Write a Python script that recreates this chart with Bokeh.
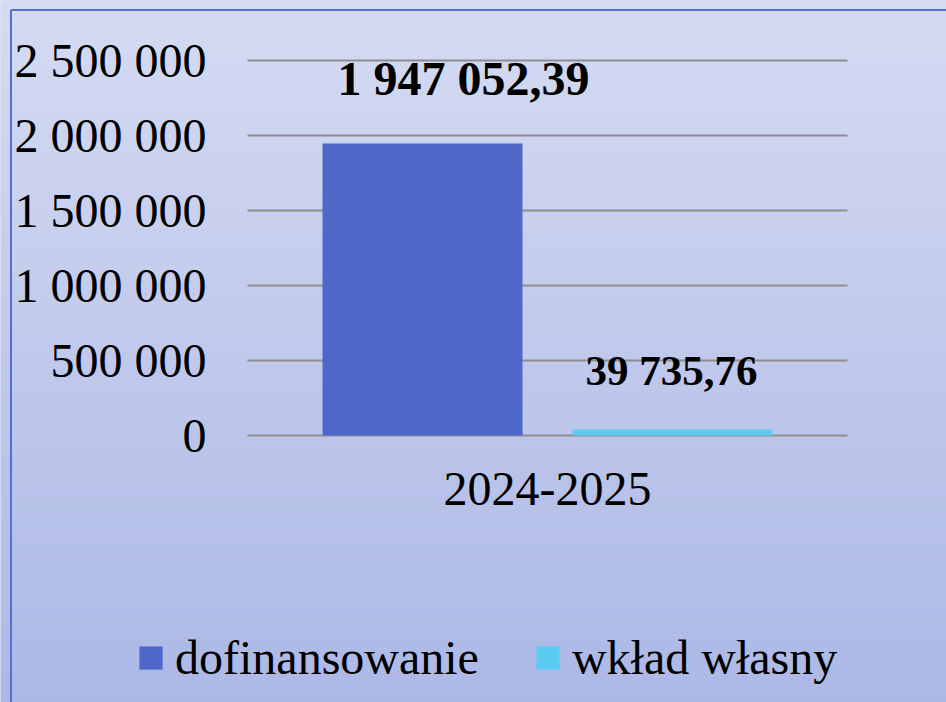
import numpy as np
from bokeh.plotting import figure
from bokeh.models import (Range1d, LinearAxis, FixedTicker, Legend, LegendItem,
                          ColumnDataSource)
from bokeh.core.properties import value
from bokeh.embed import file_html
from bokeh.resources import INLINE

# ---- data ----
categories = ["2024-2025"]
series_names = ["dofinansowanie", "wkład własny"]
series_values = [1947052.39, 39735.76]
value_labels = ["1 947 052,39", "39 735,76"]
ytick_values = [0, 500000, 1000000, 1500000, 2000000, 2500000]
ytick_labels = ["0", "500 000", "1 000 000", "1 500 000", "2 000 000", "2 500 000"]

# ---- style ----
colors = ["#4F67C8", "#5CCBF2"]
FONT = "Liberation Serif"
FS = "48px"
W, H = 946, 702

# geometry (pixels inside the figure)
cat_left_px, cat_right_px = 247, 847
zero_from_top = 435
px_per_val = 75 / 500000.0
cat_w = cat_right_px - cat_left_px

x_start = -cat_left_px / cat_w
x_end = 1 + (W - cat_right_px) / cat_w
y_start = -(H - zero_from_top) / px_per_val
y_end = zero_from_top / px_per_val

def x_of_px(px):
    return x_start + px / W * (x_end - x_start)

def y_of_px(px_from_top):
    return y_end - px_from_top / H * (y_end - y_start)

p = figure(width=W, height=H, output_backend="svg", toolbar_location=None,
           x_range=Range1d(x_start, x_end), y_range=Range1d(y_start, y_end),
           x_axis_location=None, y_axis_location=None, min_border=0)
p.outline_line_color = None
p.xgrid.visible = False
p.ygrid.visible = False
p.background_fill_color = "#C0C8EC"
p.border_fill_color = "#C0C8EC"

# gradient background
n = H
img = np.empty((n, 1), dtype=np.uint32)
view = img.view(dtype=np.uint8).reshape((n, 1, 4))
top_c = np.array([213, 219, 242])
bot_c = np.array([172, 184, 230])
t = np.linspace(0, 1, n)  # row 0 = bottom
for k in range(3):
    view[:, 0, k] = np.round(bot_c[k] + (top_c[k] - bot_c[k]) * t).astype(np.uint8)
view[:, 0, 3] = 255
p.image_rgba(image=[img], x=x_start, y=y_start, dw=x_end - x_start, dh=y_end - y_start)

# chart-area border (top and left edges visible)
bx, by = x_of_px(10.5), y_of_px(9.5)
p.segment(x0=[bx, bx], y0=[by, by], x1=[bx, x_end], y1=[y_start, by],
          line_color="#5470D0", line_width=2)

# gridlines
p.segment(x0=[0] * len(ytick_values), x1=[1] * len(ytick_values),
          y0=ytick_values, y1=ytick_values, line_color="#8E8E8E", line_width=2)

# bars
n_series = len(series_names)
bar_w = 1 / 3
gap = 50 / cat_w
centers = [0.5 - (bar_w + gap) / 2, 0.5 + (bar_w + gap) / 2]
renderers = []
for i, name in enumerate(series_names):
    r = p.vbar(x=[centers[i]], top=[series_values[i]], bottom=0, width=bar_w,
               fill_color=colors[i], line_color=None)
    renderers.append(r)

# value labels
lab_src = ColumnDataSource(dict(x=centers, y=series_values, text=value_labels,
                                dx=[41, -1], dy=[-65, -59], fs=["48px", "43px"]))
p.text(x="x", y="y", text="text", x_offset="dx", y_offset="dy", source=lab_src,
       text_font=value(FONT), text_font_size="fs", text_font_style="bold",
       text_align="center", text_baseline="alphabetic", text_color="black")

# y axis
yaxis = LinearAxis(fixed_location=x_of_px(206),
                   ticker=FixedTicker(ticks=ytick_values, minor_ticks=[]),
                   major_label_overrides={v: l for v, l in zip(ytick_values, ytick_labels)})
yaxis.axis_line_color = None
yaxis.major_tick_line_color = None
yaxis.minor_tick_line_color = None
yaxis.major_tick_out = 0
yaxis.major_tick_in = 0
yaxis.major_label_standoff = 0
yaxis.major_label_text_font = FONT
yaxis.major_label_text_font_size = FS
yaxis.major_label_text_color = "black"
p.add_layout(yaxis, "left")

# x axis (category label)
xaxis = LinearAxis(fixed_location=0, ticker=FixedTicker(ticks=[0.5], minor_ticks=[]),
                   major_label_overrides={0.5: categories[0]})
xaxis.axis_line_color = None
xaxis.major_tick_line_color = None
xaxis.minor_tick_line_color = None
xaxis.major_tick_out = 0
xaxis.major_tick_in = 0
xaxis.major_label_standoff = 37
xaxis.major_label_text_font = FONT
xaxis.major_label_text_font_size = FS
xaxis.major_label_text_color = "black"
p.add_layout(xaxis, "below")

# legend
legend = Legend(items=[LegendItem(label=series_names[i], renderers=[renderers[i]])
                       for i in range(n_series)],
                orientation="horizontal", location=(136, 17),
                glyph_width=29, glyph_height=29, label_standoff=10, spacing=54,
                padding=0, margin=0, border_line_color=None, background_fill_alpha=0,
                label_text_font=FONT, label_text_font_size=FS, label_text_color="black")
p.add_layout(legend)

open("out.html", "w").write(file_html(p, INLINE))
